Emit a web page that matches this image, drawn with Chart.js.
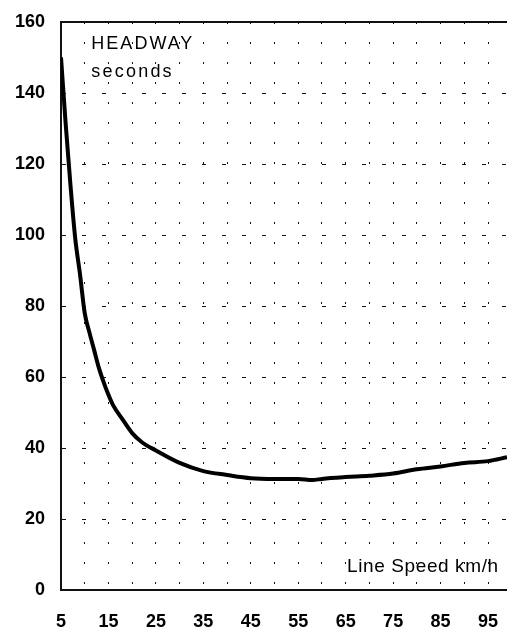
<!DOCTYPE html>
<html>
<head>
<meta charset="utf-8">
<script src="https://cdn.jsdelivr.net/npm/chart.js@4/dist/chart.umd.min.js"></script>
<style>
  html, body { margin: 0; padding: 0; background: #fff; }
  #wrap { width: 507px; height: 632px; }
</style>
</head>
<body>
<div id="wrap"><canvas id="c" width="507" height="632"></canvas></div>
<script>
// Line speed (km/h)
const speeds = [5, 6, 7, 8, 9, 10, 11, 12, 13, 14, 15, 16, 18, 20, 22, 25, 30, 35, 40, 45, 50, 55, 58, 60, 65, 70, 75, 80, 85, 90, 95, 99];
// Headway (seconds)
const headways = [150, 131, 114, 99, 89, 78, 72.5, 67.5, 62.5, 58.5, 55, 52, 48, 44.2, 41.7, 39.3, 35.8, 33.5, 32.4, 31.5, 31.3, 31.3, 31.0, 31.3, 31.8, 32.2, 32.8, 34, 34.8, 35.8, 36.3, 37.4];
// Axis ticks
const xLabels = [5, 15, 25, 35, 45, 55, 65, 75, 85, 95];
const yTicks = [0, 20, 40, 60, 80, 100, 120, 140, 160];
const titleLines = ["HEADWAY", "seconds"];
const xTitle = "Line Speed km/h";

const FONT = "'Liberation Sans', Arial, Helvetica, sans-serif";

const framePlugin = {
  id: 'frame',
  afterDatasetsDraw(chart) {
    const {ctx, chartArea: a, scales} = chart;
    ctx.save();
    ctx.strokeStyle = '#111';
    ctx.lineWidth = 2;
    ctx.beginPath();
    ctx.moveTo(a.left, a.top);
    ctx.lineTo(a.right + 2, a.top);
    ctx.stroke();
    // annotations
    ctx.fillStyle = '#000';
    ctx.textAlign = 'left';
    ctx.textBaseline = 'alphabetic';
    ctx.font = '18px ' + FONT;
    try { ctx.letterSpacing = '2px'; } catch (e) {}
    const x0 = scales.x.getPixelForValue(11.4);
    ctx.fillText(titleLines[0], x0, scales.y.getPixelForValue(152.5));
    try { ctx.letterSpacing = '2.2px'; } catch (e) {}
    ctx.fillText(titleLines[1], x0, scales.y.getPixelForValue(144.5));
    ctx.font = '19px ' + FONT;
    try { ctx.letterSpacing = '0.6px'; } catch (e) {}
    ctx.fillText(xTitle, scales.x.getPixelForValue(65.3), scales.y.getPixelForValue(5));
    ctx.restore();
  }
};

new Chart(document.getElementById('c'), {
  type: 'line',
  data: {
    datasets: [{
      data: speeds.map((s, i) => ({x: s, y: headways[i]})),
      borderColor: '#000',
      borderWidth: 4,
      pointRadius: 0,
      fill: false,
      cubicInterpolationMode: 'monotone'
    }]
  },
  options: {
    responsive: false,
    animation: false,
    devicePixelRatio: 1,
    layout: { padding: { top: 22, right: 0, left: 0, bottom: 0 } },
    plugins: { legend: { display: false }, tooltip: { enabled: false } },
    scales: {
      x: {
        type: 'linear',
        min: 5,
        max: 99,
        afterFit: s => { s.height = 42; s.paddingLeft = 0; s.paddingRight = 0; },
        ticks: {
          stepSize: 5,
          includeBounds: false,
          autoSkip: false,
          maxRotation: 0,
          padding: 21,
          color: '#000',
          font: { family: FONT, size: 18, weight: 'bold' },
          callback: v => xLabels.includes(v) ? String(v) : ''
        },
        grid: {
          drawTicks: false,
          color: '#111',
          lineWidth: c => (c.tick && c.tick.value === 5) ? 0 : 1
        },
        border: { display: true, color: '#111', width: 2, dash: [2, 18], dashOffset: 0 }
      },
      y: {
        min: 0,
        max: 160,
        afterFit: s => { s.width = 61; s.paddingTop = 0; s.paddingBottom = 0; },
        ticks: {
          stepSize: 20,
          padding: 16,
          color: '#000',
          font: { family: FONT, size: 18, weight: 'bold' },
          callback: v => yTicks.includes(v) ? String(v) : ''
        },
        grid: {
          drawTicks: false,
          color: '#111',
          lineWidth: c => (c.tick && (c.tick.value === 0 || c.tick.value === 160)) ? 0 : 1
        },
        border: { display: true, color: '#111', width: 2, dash: [4, 16], dashOffset: 0 }
      }
    }
  },
  plugins: [framePlugin]
});
</script>
</body>
</html>
